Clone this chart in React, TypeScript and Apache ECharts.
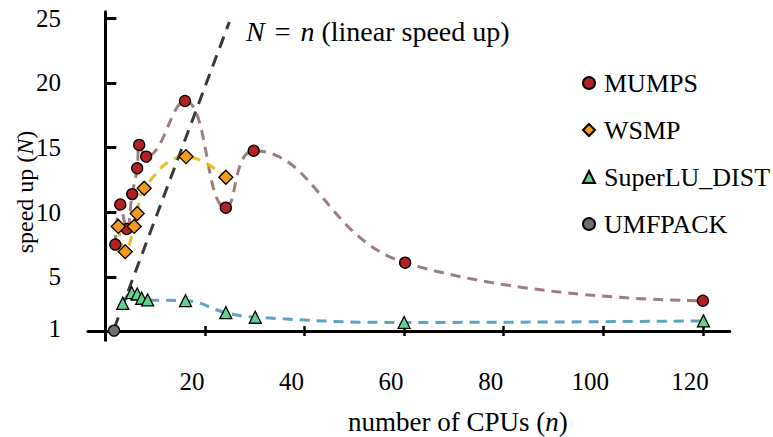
import React, { useEffect, useRef } from "react";
import * as echarts from "echarts";

// ---- data ----
const cpusMumps = [2.0, 3.0, 4.3, 5.4, 6.4, 6.8, 8.2, 16.0, 24.2, 29.8, 60.2, 120.0];
const speedMumps = [7.5, 10.6, 8.7, 11.4, 13.4, 15.2, 14.3, 18.6, 10.35, 14.75, 6.1, 3.16];

const cpusWsmp = [2.6, 4.0, 5.8, 6.4, 7.8, 16.2, 24.2];
const speedWsmp = [8.9, 6.95, 8.9, 9.9, 11.85, 14.3, 12.7];

const cpusSlu = [3.5, 5.3, 6.4, 7.3, 8.5, 16.1, 24.2, 30.1, 60.0, 120.1];
const speedSlu = [2.96, 3.78, 3.68, 3.35, 3.22, 3.16, 2.24, 1.88, 1.48, 1.6];

const cpusUmf = [1.75];
const speedUmf = [0.85];

const cpusLinear = [1.75, 24.9];
const speedLinear = [1.0, 24.7];

const xTicks = [20, 40, 60, 80, 100, 120];
const yTicks = [5, 10, 15, 20, 25];
const yLabels = [1, 5, 10, 15, 20, 25];

const seriesNames = ["MUMPS", "WSMP", "SuperLU_DIST", "UMFPACK"];

const FONT = "Liberation Serif";

const zip = (xs: number[], ys: number[]) => xs.map((x, i) => [x, ys[i]]);

export default function App() {
  const ref = useRef<HTMLDivElement>(null);

  useEffect(() => {
    document.body.style.margin = "0";
    const chart = echarts.init(ref.current!, null, { renderer: "svg" });

    const X_MIN = -3.5;
    const X_MAX = 125.4;
    const Y_MIN = 0.1;
    const Y_MAX = 25.5;

    const dash = (color: string, d: number[] = [10, 7]) => ({
      color,
      width: 3,
      type: d,
    });

    const trend = (name: string, xs: number[], ys: number[], color: string) => ({
      type: "line",
      name,
      data: zip(xs, ys),
      smooth: 0.45,
      showSymbol: false,
      symbol: "none",
      silent: true,
      lineStyle: dash(color),
      z: 2,
    });

    const scatter = (name: string, xs: number[], ys: number[], symbol: string, size: number, color: string) => ({
      type: "scatter",
      name,
      data: zip(xs, ys),
      symbol,
      symbolSize: size,
      itemStyle: { color, borderColor: "#000", borderWidth: 1.3, opacity: 1 },
      z: 5,
    });

    const option: any = {
      animation: false,
      backgroundColor: "#fff",
      textStyle: { fontFamily: FONT, color: "#000" },
      grid: {
        left: 87.9,
        right: 43.2,
        top: 11.7,
        bottom: 96.7,
        containLabel: false,
        outerBoundsMode: "none",
      },
      legend: {
        orient: "vertical",
        left: 577,
        top: 65,
        itemWidth: 12,
        itemHeight: 12,
        itemGap: 21,
        data: [
          { name: seriesNames[0], icon: "circle" },
          { name: seriesNames[1], icon: "diamond" },
          { name: seriesNames[2], icon: "triangle" },
          { name: seriesNames[3], icon: "circle" },
        ],
        textStyle: {
          fontFamily: FONT,
          fontSize: 26,
          color: "#000",
          lineHeight: 26,
          padding: [0, 0, 0, 4],
        },
      },
      xAxis: [
        {
          type: "value",
          min: X_MIN,
          max: X_MAX,
          position: "bottom",
          offset: -9.3,
          splitLine: { show: false },
          axisLine: { onZero: false, lineStyle: { color: "#000", width: 3 } },
          axisTick: {
            customValues: xTicks,
            inside: false,
            length: 5,
            lineStyle: { color: "#000", width: 2.5 },
          },
          axisLabel: {
            customValues: xTicks,
            fontFamily: FONT,
            fontSize: 25,
            color: "#000",
            margin: 38,
            padding: [0, 26, 0, 0],
          },
          name: "number of CPUs ({it|n})",
          nameLocation: "middle",
          nameGap: 78,
          nameTextStyle: {
            fontFamily: FONT,
            fontSize: 27,
            lineHeight: 26,
            color: "#000",
            padding: [0, 0, 0, 98],
            rich: { it: { fontFamily: FONT, fontSize: 27, lineHeight: 26, fontStyle: "italic", color: "#000" } },
          },
        },
        {
          type: "value",
          min: X_MIN,
          max: X_MAX,
          position: "bottom",
          offset: -9.3,
          splitLine: { show: false },
          axisLine: { show: false, onZero: false },
          axisTick: {
            customValues: xTicks,
            inside: true,
            length: 5,
            lineStyle: { color: "#000", width: 2.5 },
          },
          axisLabel: { show: false },
        },
      ],
      yAxis: {
        type: "value",
        min: Y_MIN,
        max: Y_MAX,
        splitLine: { show: false },
        axisLine: { onZero: true, lineStyle: { color: "#000", width: 3 } },
        axisTick: {
          customValues: yTicks,
          inside: true,
          length: 11,
          lineStyle: { color: "#000", width: 3 },
        },
        axisLabel: {
          customValues: yLabels,
          fontFamily: FONT,
          fontSize: 25,
          color: "#000",
          margin: 27,
        },
      },
      graphic: [
        {
          type: "text",
          left: 246,
          top: 17,
          style: {
            text: "{it|N} {eq|=} {it|n} (linear speed up)",
            fontFamily: FONT,
            fontSize: 28,
            fill: "#000",
            rich: {
              it: { fontFamily: FONT, fontSize: 28, fontStyle: "italic", fill: "#000" },
              eq: { fontFamily: FONT, fontSize: 28, fill: "#000", padding: [0, 3, 0, 3] },
            },
          },
        },
        {
          type: "text",
          x: 25,
          y: 192,
          rotation: Math.PI / 2,
          style: {
            text: "speed up ({it|N})",
            fontFamily: FONT,
            fontSize: 24,
            fill: "#000",
            align: "center",
            verticalAlign: "middle",
            rich: {
              it: { fontFamily: FONT, fontSize: 24, fontStyle: "italic", fill: "#000" },
            },
          },
        },
      ],
      series: [
        trend("MUMPS fit", cpusMumps, speedMumps, "#9c7e7e"),
        trend("WSMP fit", cpusWsmp, speedWsmp, "#e8bf1c"),
        trend("SuperLU fit", cpusSlu, speedSlu, "#5ea4c2"),
        {
          type: "line",
          name: "linear",
          data: zip(cpusLinear, speedLinear),
          showSymbol: false,
          symbol: "none",
          silent: true,
          lineStyle: dash("#3a3a3a", [12, 8]),
          z: 3,
        },
        scatter(seriesNames[0], cpusMumps, speedMumps, "circle", 11, "#b22222"),
        scatter(seriesNames[1], cpusWsmp, speedWsmp, "diamond", 14, "#f39a1e"),
        scatter(seriesNames[2], cpusSlu, speedSlu, "triangle", 12, "#5fd38e"),
        scatter(seriesNames[3], cpusUmf, speedUmf, "circle", 11, "#6e6e6e"),
      ],
    };

    chart.setOption(option);
    return () => chart.dispose();
  }, []);

  return <div ref={ref} style={{ width: 773, height: 437 }} />;
}
